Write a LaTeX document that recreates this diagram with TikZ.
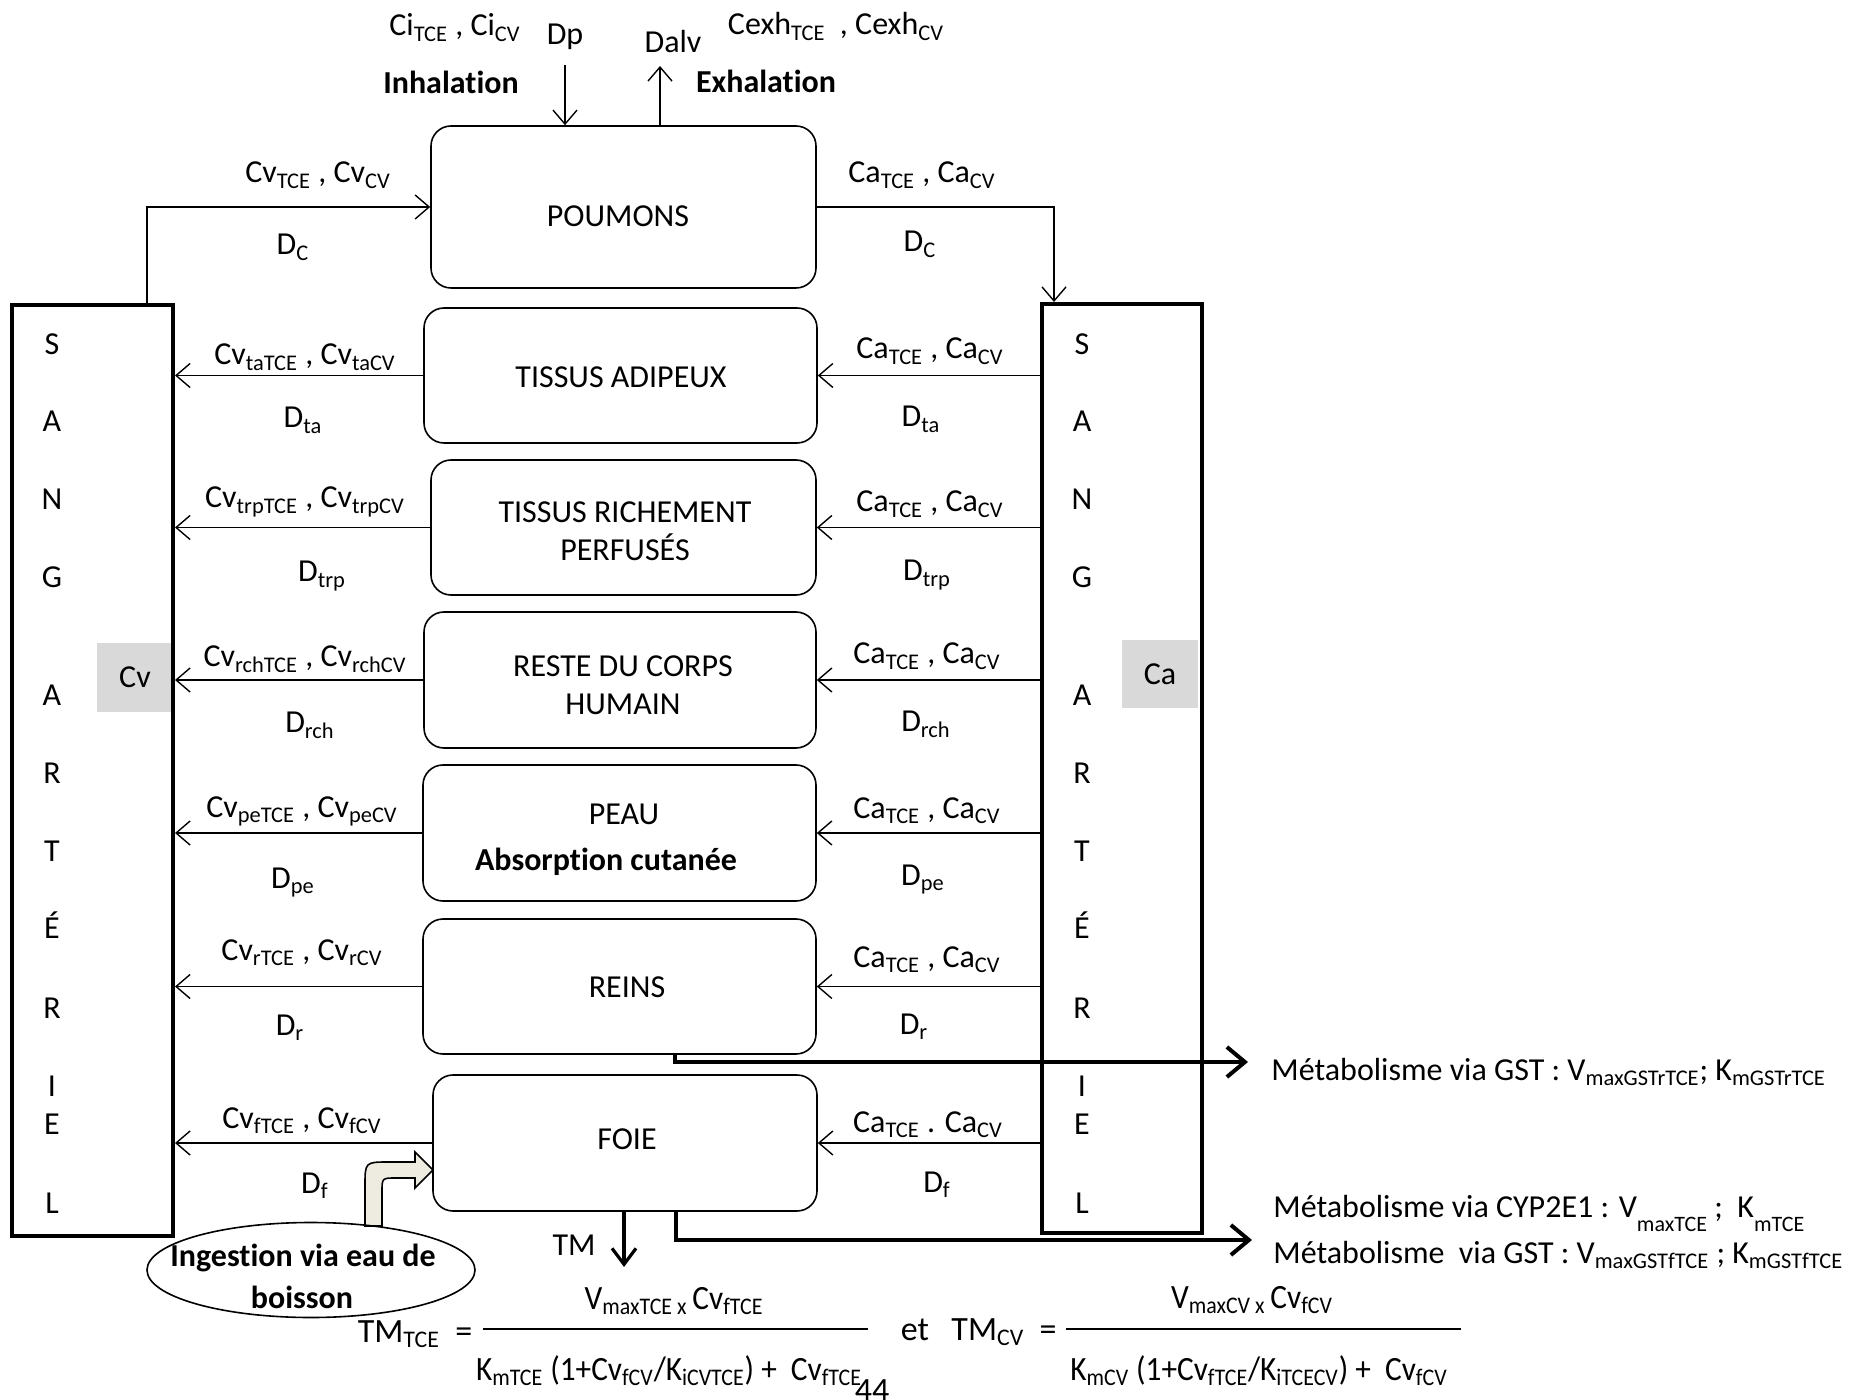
\documentclass[tikz,border=0pt]{standalone}
\usepackage{fontspec}
\setmainfont{Carlito}[Ligatures=NoCommon]
\usetikzlibrary{arrows.meta,shapes.geometric}
\definecolor{cellgray}{HTML}{D9D9D9}
\definecolor{bentfill}{HTML}{EEECE1}
\newcommand\lblfont{\fontsize{16}{19}\selectfont}
\newcommand\eqfont{\fontsize{17}{20}\selectfont}
\newcommand\sbs[1]{\textsubscript{#1}}
\newcommand\lowsub[1]{\raisebox{-0.45em}{\fontsize{11}{12}\selectfont #1}}
\newcommand\narrow[1]{\scalebox{0.92}[1]{#1}}

\begin{document}
\begin{tikzpicture}[x=0.5pt,y=-0.5pt,
  every node/.style={font=\lblfont, inner sep=0pt},
  organ/.style={draw, line width=0.8pt, rounded corners=10pt},
  blood/.style={draw, line width=2pt},
  conn/.style={line width=0.7pt, -{Straight Barb[length=7pt,width=12pt]}},
  metab/.style={line width=2pt, -{Straight Barb[length=9pt,width=15pt]}},
  tmarr/.style={line width=1.6pt, -{Straight Barb[length=8pt,width=12pt]}},
  lab/.style={anchor=base},
  eq/.style={anchor=base, font=\eqfont},
  letter/.style={anchor=base},
]
\useasboundingbox (0,0) rectangle (1857,1400);

% ---- organ compartments ----
\node[organ, minimum width=192.5pt, minimum height=81pt]   (poumons) at (623.5,207)  {};
\node[organ, minimum width=196.5pt, minimum height=67.5pt] (ta)      at (620.5,375.5) {};
\node[organ, minimum width=192.5pt, minimum height=67.5pt] (trp)     at (623.5,527.5) {};
\node[organ, minimum width=196pt,   minimum height=68pt]   (rch)     at (620,680)     {};
\node[organ, minimum width=196.5pt, minimum height=68pt]   (pe)      at (619.5,833)   {};
\node[organ, minimum width=196.5pt, minimum height=67.5pt] (reins)   at (619.5,986.5) {};
\node[organ, minimum width=192pt,   minimum height=68pt]   (foie)    at (625,1143)    {};

\node (tPoumons) at (618,216) {POUMONS};
\node (tTa)      at (621,377) {TISSUS ADIPEUX};
\node[align=center] (tTrp) at (625,531) {TISSUS RICHEMENT\\PERFUSÉS};
\node[align=center] (tRch) at (623,685.5) {RESTE DU CORPS\\HUMAIN};
\node (tPeau)    at (624,814) {PEAU};
\node[font=\lblfont\bfseries] (tAbs) at (606,862) {Absorption cutanée};
\node (tReins)   at (627,987) {REINS};
\node (tFoie)    at (627,1139) {FOIE};

% ---- blood pools ----
\node[fill=cellgray, minimum width=38pt, minimum height=34.5pt] (cvbox) at (135,677.5) {Cv};
\node[fill=cellgray, minimum width=38pt, minimum height=34pt]   (cabox) at (1160,674)  {Ca};
\node[blood, minimum width=80.5pt, minimum height=465.5pt] (sangV) at (92.5,770.5) {};
\node[blood, minimum width=80pt,   minimum height=464.5pt] (sangA) at (1122,768.5) {};

\foreach \ch/\yy [count=\i] in {S/355,A/432,N/510,G/588,A/705,R/783,T/861,É/938,R/1018,I/1096,E/1134,L/1213}{
  \node[letter] (lv\i) at (52,\yy) {\ch};
  \node[letter] (la\i) at (1082,\yy) {\ch};
}

% ---- lungs: inhalation / exhalation ----
\coordinate (dpA) at (565,65);
\coordinate (dalvA) at (660,66);
\draw[conn] (dpA) -- (dpA |- poumons.north);
\draw[conn] (dalvA |- poumons.north) -- (dalvA);
\node[lab] (ci)   at (455,36) {Ci\sbs{TCE} , Ci\sbs{CV}};
\node[lab] (dp)   at (565,45) {Dp};
\node[lab] (dalv) at (673,53) {Dalv};
\node[lab] (cexh) at (836,35) {Cexh\sbs{TCE}\ \ , Cexh\sbs{CV}};
\node[lab, font=\lblfont\bfseries] (inhal) at (451,94) {Inhalation};
\node[lab, font=\lblfont\bfseries] (exhal) at (766,93) {Exhalation};

% ---- venous blood to lungs, lungs to arterial blood ----
\draw[conn] ([xshift=27.25pt]sangV.north) |- (poumons.west);
\draw[conn] (poumons.east) -| ([xshift=-34pt]sangA.north);
\node[lab] (cvtop) at (318,183) {Cv\sbs{TCE} , Cv\sbs{CV}};
\node[lab] (dcv)   at (293,255) {D\sbs{C}};
\node[lab] (catop) at (922,183) {Ca\sbs{TCE} , Ca\sbs{CV}};
\node[lab] (dca)   at (920,252) {D\sbs{C}};

% ---- tissue outflows to venous blood, arterial inflows ----
\foreach \o in {ta,trp,rch,pe,reins,foie}{
  \draw[conn] (\o.west) -- (\o.west -| sangV.east);
  \draw[conn] (\o.east -| sangA.west) -- (\o.east);
}
\node[lab] (cvta)  at (305,365)  {Cv\sbs{taTCE} , Cv\sbs{taCV}};
\node[lab] (dta)   at (303,428)  {D\sbs{ta}};
\node[lab] (cvtrp) at (305,508)  {Cv\sbs{trpTCE} , Cv\sbs{trpCV}};
\node[lab] (dtrp)  at (322,582)  {D\sbs{trp}};
\node[lab] (cvrch) at (305,667)  {Cv\sbs{rchTCE} , Cv\sbs{rchCV}};
\node[lab] (drch)  at (310,733)  {D\sbs{rch}};
\node[lab] (cvpe)  at (302,817)  {Cv\sbs{peTCE} , Cv\sbs{peCV}};
\node[lab] (dpe)   at (293,888)  {D\sbs{pe}};
\node[lab] (cvr)   at (302,960)  {Cv\sbs{rTCE} , Cv\sbs{rCV}};
\node[lab] (dr)    at (290,1035) {D\sbs{r}};
\node[lab] (cvf)   at (302,1128) {Cv\sbs{fTCE} , Cv\sbs{fCV}};
\node[lab] (df)    at (315,1193) {D\sbs{f}};

\node[lab] (cata)  at (930,359)  {Ca\sbs{TCE} , Ca\sbs{CV}};
\node[lab] (data)  at (921,427)  {D\sbs{ta}};
\node[lab] (catrp) at (930,512)  {Ca\sbs{TCE} , Ca\sbs{CV}};
\node[lab] (datrp) at (927,581)  {D\sbs{trp}};
\node[lab] (carch) at (927,664)  {Ca\sbs{TCE} , Ca\sbs{CV}};
\node[lab] (darch) at (926,732)  {D\sbs{rch}};
\node[lab] (cape)  at (927,818)  {Ca\sbs{TCE} , Ca\sbs{CV}};
\node[lab] (dape)  at (923,885)  {D\sbs{pe}};
\node[lab] (car)   at (927,967)  {Ca\sbs{TCE} , Ca\sbs{CV}};
\node[lab] (dar)   at (914,1034) {D\sbs{r}};
\node[lab] (caf)   at (928,1132) {Ca\sbs{TCE} . Ca\sbs{CV}};
\node[lab] (daf)   at (937,1192) {D\sbs{f}};

% ---- metabolism ----
\coordinate (gstX) at (675,0);
\coordinate (gstR) at (1248,1062);
\draw[metab] (reins.south -| gstX) |- (gstR);
\coordinate (cypX) at (676,0);
\coordinate (cypR) at (1252,1240);
\draw[metab] (foie.south -| cypX) |- (cypR);
\coordinate (tmEnd) at (624,1267);
\draw[tmarr] (foie.south -| tmEnd) -- (tmEnd);
\node[lab] (tm) at (574,1255) {TM};

\node[anchor=base west] (mgstr) at (1271,1080) {Métabolisme via GST : V\sbs{maxGSTrTCE}; K\sbs{mGSTrTCE}};
\node[anchor=base west] (mcyp)  at (1273,1217) {Métabolisme via CYP2E1 : V\lowsub{maxTCE} ;\ \ K\lowsub{mTCE}};
\node[anchor=base west] (mgstf) at (1273,1263) {Métabolisme\ \ via GST : V\sbs{maxGSTfTCE} ; K\sbs{mGSTfTCE}};

% ---- oral intake ----
\draw[line width=0.8pt, fill=bentfill]
  (365,1226) -- (365,1186) .. controls (365,1162) .. (389,1162) -- (415,1162)
  -- (415,1152) -- (433,1170) -- (415,1188) -- (415,1178) -- (396,1178)
  .. controls (382,1178) .. (382,1192) -- (382,1226) -- cycle;
\node[ellipse, draw, line width=0.8pt, minimum width=164pt, minimum height=47.5pt] (ingest) at (311,1270) {};
\node[font=\lblfont\bfseries] (ing1) at (303,1258) {Ingestion via eau de};
\node[font=\lblfont\bfseries] (ing2) at (302,1297) {boisson};

% ---- hepatic metabolism rate ----
\node[eq] (tmtce) at (415,1342) {TM\sbs{TCE}\ \ =};
\coordinate (fa1) at (483,1329);
\coordinate (fb1) at (868,1329);
\draw[line width=0.8pt] (fa1) -- (fb1);
\node[eq] (num1) at (674,1309) {\narrow{V\sbs{maxTCE\ x\ }Cv\sbs{fTCE}}};
\node[eq] (den1) at (669,1380) {\narrow{K\sbs{mTCE} (1+Cv\sbs{fCV}/K\sbs{iCVTCE}) +\ \ Cv\sbs{fTCE}}};
\node[eq] (et) at (915,1340) {et};
\node[eq] (tmcv) at (1004,1340) {TM\sbs{CV}\ \ =};
\coordinate (fa2) at (1066,1329);
\coordinate (fb2) at (1461,1329);
\draw[line width=0.8pt] (fa2) -- (fb2);
\node[eq] (num2) at (1252,1308) {\narrow{V\sbs{maxCV\ x\ }Cv\sbs{fCV}}};
\node[eq] (den2) at (1259,1380) {\narrow{K\sbs{mCV} (1+Cv\sbs{fTCE}/K\sbs{iTCECV}) +\ \ Cv\sbs{fCV}}};
\node[eq] (pg) at (872,1401) {44};
\end{tikzpicture}
\end{document}
